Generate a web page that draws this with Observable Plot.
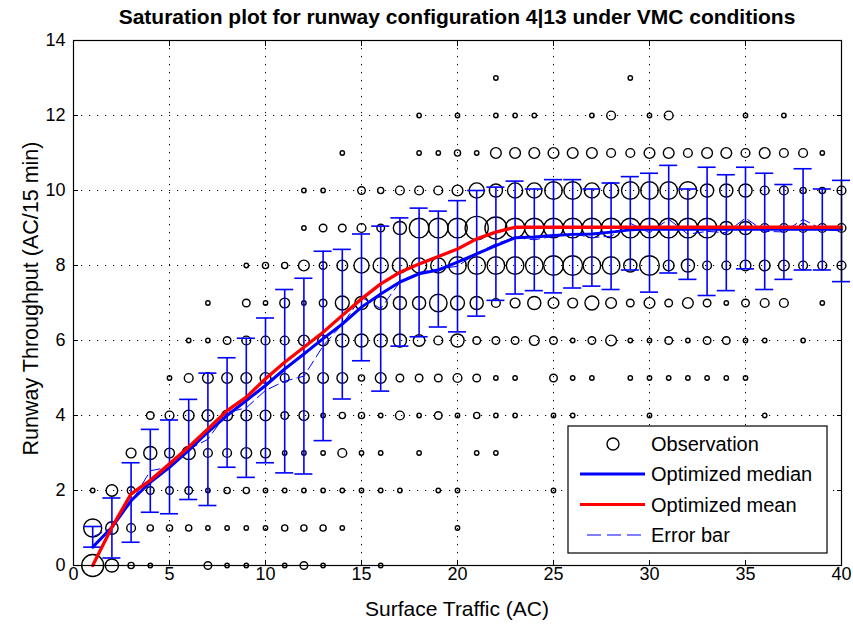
<!DOCTYPE html>
<html><head><meta charset="utf-8">
<script src="https://cdn.jsdelivr.net/npm/d3@7"></script>
<script src="https://cdn.jsdelivr.net/npm/@observablehq/plot@0.6"></script>
<style>body{margin:0;background:#fff} svg{display:block}</style>
</head><body><div id="chart"></div>
<script>
// ---- data ----
const traffic = [1,2,3,4,5,6,7,8,9,10,11,12,13,14,15,16,17,18,19,20,21,22,23,24,25,26,27,28,29,30,31,32,33,34,35,36,37,38,39,40];
const xTicks = [0,5,10,15,20,25,30,35,40];
const yTicks = [0,2,4,6,8,10,12,14];

// observation counts per throughput level (index = surface traffic - 1)
const obsY0  = [25,9,2,1,0,0,3,1,1,0,1,3,1,0,0,1,0,0,0,0,0,0,0,0,0,0,0,0,0,0,0,0,0,0,0,0,0,0,0,0];
const obsY1  = [17,8,4,2,2,2,1,1,1,1,2,2,2,1,0,0,0,0,0,1,0,0,0,0,0,0,0,0,0,0,0,0,0,0,0,0,0,0,0,0];
const obsY2  = [1,7,3,3,3,3,1,2,2,1,1,1,1,1,1,1,1,0,1,1,0,0,0,0,1,0,0,0,0,0,0,0,0,0,0,0,0,0,0,0];
const obsY3  = [0,0,5,9,5,9,4,4,6,5,1,1,1,4,1,1,0,1,0,0,1,1,0,0,0,0,0,0,0,0,0,0,0,0,0,0,0,0,0,0];
const obsY4  = [0,0,0,3,4,6,7,6,6,6,3,5,1,2,2,1,4,1,3,1,2,1,1,0,1,1,0,0,0,1,0,0,0,0,0,1,0,0,0,0];
const obsY5  = [0,0,0,0,1,4,6,6,6,6,4,6,6,6,2,6,3,3,3,4,3,1,1,0,3,1,1,0,1,1,1,1,1,1,1,0,0,0,0,0];
const obsY6  = [0,0,0,0,0,1,1,3,4,4,4,6,6,9,9,9,9,7,4,9,3,3,3,5,3,1,3,6,1,1,3,1,3,3,1,1,0,1,0,0];
const obsY7  = [0,0,0,0,0,0,1,0,3,1,5,1,3,10,9,9,9,9,16,10,9,4,5,9,6,5,10,6,3,6,3,6,3,1,3,4,4,0,1,0];
const obsY8  = [0,0,0,0,0,0,0,0,1,2,2,6,3,6,12,12,12,12,12,16,16,16,16,16,20,20,16,16,9,20,6,9,4,4,6,6,6,4,4,4];
const obsY9  = [0,0,0,0,0,0,0,0,0,0,0,1,3,3,4,3,9,20,20,20,28,25,20,20,20,20,20,20,20,20,20,20,20,9,9,4,4,4,4,4];
const obsY10 = [0,0,0,0,0,0,0,0,0,0,0,1,1,0,3,2,4,4,4,6,12,9,12,12,16,16,12,12,16,16,16,16,9,9,9,4,4,2,2,4];
const obsY11 = [0,0,0,0,0,0,0,0,0,0,0,0,0,1,0,0,0,1,1,2,1,6,6,6,6,6,6,4,4,6,6,4,6,6,4,6,4,4,1,0];
const obsY12 = [0,0,0,0,0,0,0,0,0,0,0,0,0,0,0,0,0,1,0,1,0,1,1,1,0,0,1,4,0,1,4,0,0,0,1,0,1,0,0,0];
const obsY13 = [0,0,0,0,0,0,0,0,0,0,0,0,0,0,0,0,0,0,0,0,0,1,0,0,0,0,0,0,1,0,0,0,0,0,0,0,0,0,0,0];
const obsRows = [obsY0,obsY1,obsY2,obsY3,obsY4,obsY5,obsY6,obsY7,obsY8,obsY9,obsY10,obsY11,obsY12,obsY13];

const medianTP = [0.49,1.02,1.73,2.22,2.62,3.07,3.56,4.0,4.4,4.8,5.24,5.64,6.05,6.44,6.89,7.24,7.56,7.78,7.88,8.09,8.31,8.53,8.74,8.76,8.8,8.83,8.84,8.89,8.95,8.97,8.97,8.97,8.97,8.97,8.97,8.97,8.97,8.97,8.97,8.97];
const meanTP   = [0.0,1.02,1.91,2.27,2.71,3.16,3.64,4.13,4.49,4.98,5.42,5.82,6.22,6.67,7.11,7.51,7.82,8.04,8.24,8.44,8.71,8.89,9.02,9.02,9.02,9.02,9.02,9.02,9.02,9.02,9.02,9.02,9.02,9.02,9.02,9.02,9.02,9.02,9.02,9.02];
const errLow   = [0.49,0.2,0.62,1.42,1.38,1.76,1.6,2.62,2.35,2.74,2.47,2.44,3.33,4.44,5.46,4.65,5.85,6.1,6.36,6.23,6.65,7.07,7.24,7.33,7.27,7.4,7.45,7.36,7.88,7.29,7.8,7.63,7.2,7.33,7.91,7.36,7.63,7.88,7.88,7.57];
const errHigh  = [1.04,1.8,2.74,3.63,3.88,4.43,5.13,5.54,6.06,6.6,7.36,7.66,8.38,8.43,8.84,9.05,9.27,9.53,9.45,9.73,10.0,10.09,10.25,10.04,10.29,10.29,10.04,10.2,10.37,10.46,10.67,10.04,10.62,10.42,10.62,10.46,10.16,10.58,10.04,10.27];

const titleText = "Saturation plot for runway configuration 4|13 under VMC conditions";
const xLabel = "Surface Traffic (AC)";
const yLabel = "Runway Throughput (AC/15 min)";
const legendItems = ["Observation", "Optimized median", "Optimized mean", "Error bar"];

// ---- build tables ----
const obs = [];
obsRows.forEach((row, yv) => row.forEach((n, i) => { if (n > 0) obs.push({x: traffic[i], y: yv, n}); }));
const bars = traffic.map((x, i) => ({x, lo: errLow[i], hi: errHigh[i], mid: (errLow[i] + errHigh[i]) / 2}));
const capHalf = 0.47;
const blue = "#0000ff", red = "#ff0000";
const font = "'Liberation Sans', Arial, Helvetica, sans-serif";

const plot = Plot.plot({
  width: 853, height: 625,
  marginLeft: 73, marginRight: 12, marginTop: 40, marginBottom: 60,
  style: {fontFamily: font, fontSize: "18px", background: "#fff", color: "#000", overflow: "visible"},
  x: {domain: [0, 40], label: null},
  y: {domain: [0, 14], label: null},
  r: {type: "sqrt", domain: [0, 30], range: [0, 12]},
  marks: [
    Plot.gridX(xTicks, {stroke: "#000", strokeOpacity: 1, strokeWidth: 1, strokeDasharray: "1.2,6.8"}),
    Plot.gridY(yTicks, {stroke: "#000", strokeOpacity: 1, strokeWidth: 1, strokeDasharray: "1.2,6.8"}),
    Plot.dot(obs, {x: "x", y: "y", r: "n", stroke: "#000", strokeWidth: 1.4, fill: "none"}),
    Plot.ruleX(bars, {x: "x", y1: "lo", y2: "hi", stroke: blue, strokeWidth: 1.6}),
    Plot.ruleY(bars, {y: "hi", x1: d => d.x - capHalf, x2: d => d.x + capHalf, stroke: blue, strokeWidth: 1.6}),
    Plot.ruleY(bars, {y: "lo", x1: d => d.x - capHalf, x2: d => d.x + capHalf, stroke: blue, strokeWidth: 1.6}),
    Plot.line(bars, {x: "x", y: "mid", stroke: blue, strokeWidth: 1, strokeDasharray: "10,5"}),
    Plot.line(traffic, {x: traffic, y: medianTP, stroke: blue, strokeWidth: 3}),
    Plot.line(traffic, {x: traffic, y: meanTP, stroke: red, strokeWidth: 3.3}),
    Plot.frame({stroke: "#000", strokeWidth: 1.2}),
    Plot.axisX({anchor: "bottom", ticks: xTicks, tickSize: -5, tickPadding: 7, label: null, fontSize: 18}),
    Plot.axisX({anchor: "top", ticks: xTicks, tickSize: -5, tickFormat: () => "", label: null}),
    Plot.axisY({anchor: "left", ticks: yTicks, tickSize: -5, tickPadding: 13, label: null, fontSize: 18}),
    Plot.axisY({anchor: "right", ticks: yTicks, tickSize: -5, tickFormat: () => "", label: null})
  ]
});

document.getElementById("chart").appendChild(plot);

// ---- titles, labels, legend (positioned relative to the frame) ----
const xs = plot.scale("x"), ys = plot.scale("y");
const fL = xs.range[0], fR = xs.range[1], fB = ys.range[0], fT = ys.range[1];
const cx = (fL + fR) / 2, cy = (fT + fB) / 2;
const svg = d3.select(plot);

svg.append("text").attr("x", cx).attr("y", fT - 16)
  .attr("text-anchor", "middle").attr("font-family", font).attr("font-weight", "bold")
  .attr("font-size", 21).attr("fill", "#000").text(titleText);
svg.append("text").attr("x", cx).attr("y", fB + 51)
  .attr("text-anchor", "middle").attr("font-family", font)
  .attr("font-size", 21).attr("fill", "#000").text(xLabel);
svg.append("text").attr("transform", `translate(38,${cy - 4}) rotate(-90)`)
  .attr("text-anchor", "middle").attr("font-family", font)
  .attr("font-size", 21.5).attr("fill", "#000").text(yLabel);

const lg = svg.append("g").attr("transform", `translate(${fR - 273},${fB - 139})`);
lg.append("rect").attr("x", 0).attr("y", 0).attr("width", 259).attr("height", 127)
  .attr("fill", "#fff").attr("stroke", "#000").attr("stroke-width", 1.2);
const rowsY = [18, 48, 78.5, 109];
lg.append("circle").attr("cx", 45).attr("cy", rowsY[0]).attr("r", 6)
  .attr("fill", "none").attr("stroke", "#000").attr("stroke-width", 1.4);
lg.append("line").attr("x1", 12).attr("x2", 77).attr("y1", rowsY[1]).attr("y2", rowsY[1])
  .attr("stroke", blue).attr("stroke-width", 3);
lg.append("line").attr("x1", 12).attr("x2", 77).attr("y1", rowsY[2]).attr("y2", rowsY[2])
  .attr("stroke", red).attr("stroke-width", 3);
lg.append("line").attr("x1", 19).attr("x2", 77).attr("y1", rowsY[3]).attr("y2", rowsY[3])
  .attr("stroke", blue).attr("stroke-width", 1.2).attr("stroke-dasharray", "14,6");
legendItems.forEach((t, i) => {
  lg.append("text").attr("x", 83).attr("y", rowsY[i] + 7).attr("font-family", font)
    .attr("text-anchor", "start")
    .attr("font-size", 20).attr("fill", "#000").text(t);
});
</script></body></html>
